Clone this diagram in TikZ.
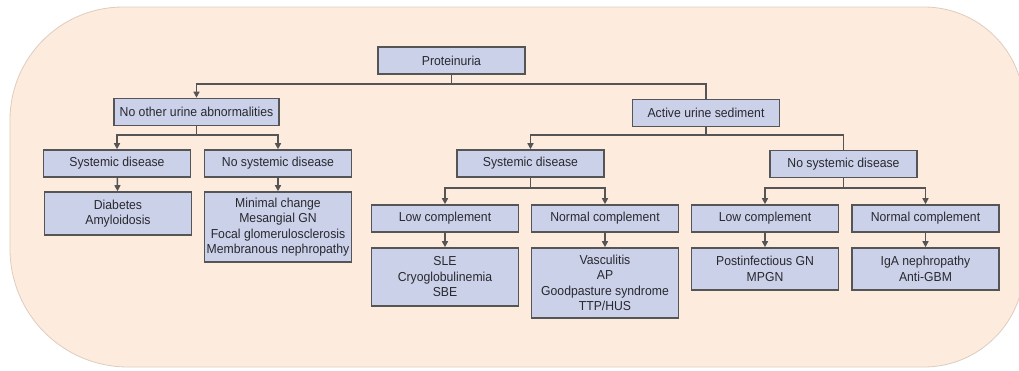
\documentclass[tikz,border=0pt]{standalone}
\usepackage{fontspec}
\setmainfont[FakeStretch=0.94]{Liberation Sans}
\usetikzlibrary{arrows.meta}
\definecolor{peach}{RGB}{253,235,222}
\definecolor{peachline}{RGB}{222,205,190}
\definecolor{boxfill}{RGB}{204,209,234}
\definecolor{boxline}{RGB}{85,85,85}
\definecolor{txt}{RGB}{40,40,45}
\begin{document}
\begin{tikzpicture}[x=1pt,y=-1pt,
  box/.style={draw=boxline, line width=1.6pt, fill=boxfill, text=txt,
    minimum width=147pt, minimum height=27pt, inner sep=1pt,
    align=center, font=\fontsize{13}{15.5}\selectfont},
  link/.style={draw=boxline, line width=1.4pt},
  arr/.style={link, -{Triangle[width=6pt,length=6pt]}}]
\useasboundingbox (0,0) rectangle (1019,370);
% peach panel with large rounded corners
\filldraw[fill=peach, draw=peachline, line width=0.8pt]
  (123,7) -- (924,7) arc[start angle=-90, end angle=0, radius=100]
  -- (1024,267) arc[start angle=0, end angle=90, radius=100]
  -- (128,367) arc[start angle=90, end angle=180, radius=118]
  -- (10,120) arc[start angle=180, end angle=270, radius=113] -- cycle;

% level 0 and 1
\node[box] (P)  at (451.5,60.5) {Proteinuria};
\node[box, minimum width=165pt] (N1) at (196.5,112) {No other urine abnormalities};
\node[box] (A)  at (706,113) {Active urine sediment};
% level 2
\node[box] (S1)  at (117,163.5) {Systemic disease};
\node[box] (NS1) at (278,163.5) {No systemic disease};
\node[box] (S2)  at (530.5,163.5) {Systemic disease};
\node[box] (NS2) at (843.5,164) {No systemic disease};
% level 3
\node[box, minimum height=43pt] (D) at (118,213.5) {Diabetes\\Amyloidosis};
\node[box, minimum height=70pt] (M) at (278,227) {Minimal change\\Mesangial GN\\Focal glomerulosclerosis\\Membranous nephropathy};
\node[box] (LC1) at (445,218.5) {Low complement};
\node[box] (NC1) at (605,218.5) {Normal complement};
\node[box] (LC2) at (765,218.5) {Low complement};
\node[box] (NC2) at (925.5,218.5) {Normal complement};
% level 4
\node[box, minimum height=58pt] (SLE) at (445,277) {SLE\\Cryoglobulinemia\\SBE};
\node[box, minimum height=70pt] (V)   at (605,283) {Vasculitis\\AP\\Goodpasture syndrome\\TTP/HUS};
\node[box, minimum height=42pt] (PI)  at (765,269) {Postinfectious GN\\MPGN};
\node[box, minimum height=42pt] (IG)  at (925.5,269) {IgA nephropathy\\Anti-GBM};

% branch points
\coordinate (bP)   at (451.5,84);
\coordinate (bN1)  at (196.5,135);
\coordinate (bA)   at (706,135);
\coordinate (bS2)  at (530.5,188);
\coordinate (bNS2) at (843.5,188);

% connectors
\draw[link] (P) -- (bP);
\draw[arr]  (bP) -| (N1);
\draw[link] (bP) -| (A);

\draw[link] (N1) -- (bN1);
\draw[arr]  (bN1) -| (S1);
\draw[arr]  (bN1) -| (NS1);
\draw[arr]  (S1) -- (D);
\draw[arr]  (NS1) -- (M);

\draw[link] (A) -- (bA);
\draw[arr]  (bA) -| (S2);
\draw[link] (bA) -| (NS2);

\draw[link] (S2) -- (bS2);
\draw[arr]  (bS2) -| (LC1);
\draw[arr]  (bS2) -| (NC1);
\draw[link] (NS2) -- (bNS2);
\draw[arr]  (bNS2) -| (LC2);
\draw[arr]  (bNS2) -| (NC2);

\draw[arr] (LC1) -- (SLE);
\draw[arr] (NC1) -- (V);
\draw[arr] (LC2) -- (PI);
\draw[arr] (NC2) -- (IG);
\end{tikzpicture}
\end{document}
